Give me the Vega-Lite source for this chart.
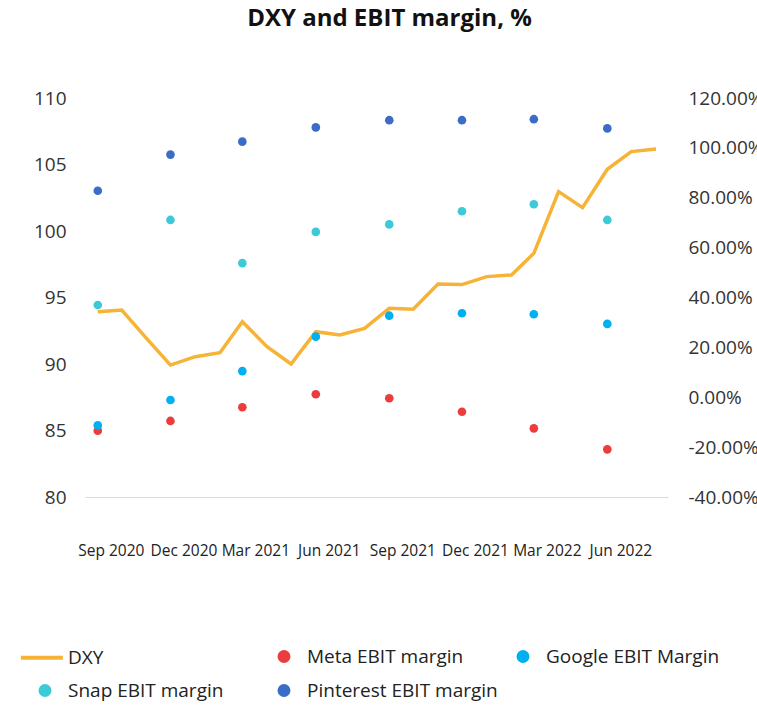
{
  "$schema": "https://vega.github.io/schema/vega-lite/v6.json",
  "width": 583,
  "height": 399,
  "autosize": {"type": "none"},
  "padding": {"left": 85, "top": 98, "right": 89, "bottom": 220},
  "background": "white",
  "config": {"view": {"stroke": null}, "font": "Open Sans"},
  "title": {
    "text": "DXY and EBIT margin, %",
    "fontSize": 24,
    "fontWeight": "bold",
    "color": "#111111",
    "anchor": "middle",
    "frame": "group",
    "dx": 13,
    "offset": 58
  },
  "data": {
    "values": [
      {"date": "2020-09-01", "series": "DXY", "value": 93.93},
      {"date": "2020-10-01", "series": "DXY", "value": 94.06},
      {"date": "2020-11-01", "series": "DXY", "value": 91.93},
      {"date": "2020-12-01", "series": "DXY", "value": 89.92},
      {"date": "2021-01-01", "series": "DXY", "value": 90.55},
      {"date": "2021-02-01", "series": "DXY", "value": 90.85},
      {"date": "2021-03-01", "series": "DXY", "value": 93.18},
      {"date": "2021-04-01", "series": "DXY", "value": 91.3},
      {"date": "2021-05-01", "series": "DXY", "value": 90.0},
      {"date": "2021-06-01", "series": "DXY", "value": 92.43},
      {"date": "2021-07-01", "series": "DXY", "value": 92.18},
      {"date": "2021-08-01", "series": "DXY", "value": 92.68},
      {"date": "2021-09-01", "series": "DXY", "value": 94.19},
      {"date": "2021-10-01", "series": "DXY", "value": 94.11},
      {"date": "2021-11-01", "series": "DXY", "value": 96.02},
      {"date": "2021-12-01", "series": "DXY", "value": 95.97},
      {"date": "2022-01-01", "series": "DXY", "value": 96.57},
      {"date": "2022-02-01", "series": "DXY", "value": 96.69},
      {"date": "2022-03-01", "series": "DXY", "value": 98.32},
      {"date": "2022-04-01", "series": "DXY", "value": 102.96},
      {"date": "2022-05-01", "series": "DXY", "value": 101.76},
      {"date": "2022-06-01", "series": "DXY", "value": 104.64},
      {"date": "2022-07-01", "series": "DXY", "value": 105.97},
      {"date": "2022-08-01", "series": "DXY", "value": 106.17},

      {"date": "2020-09-01", "series": "Meta EBIT margin", "value": -13.4},
      {"date": "2020-12-01", "series": "Meta EBIT margin", "value": -9.5},
      {"date": "2021-03-01", "series": "Meta EBIT margin", "value": -4.0},
      {"date": "2021-06-01", "series": "Meta EBIT margin", "value": 1.2},
      {"date": "2021-09-01", "series": "Meta EBIT margin", "value": -0.4},
      {"date": "2021-12-01", "series": "Meta EBIT margin", "value": -5.8},
      {"date": "2022-03-01", "series": "Meta EBIT margin", "value": -12.5},
      {"date": "2022-06-01", "series": "Meta EBIT margin", "value": -20.9},

      {"date": "2020-09-01", "series": "Google EBIT Margin", "value": -11.3},
      {"date": "2020-12-01", "series": "Google EBIT Margin", "value": -1.1},
      {"date": "2021-03-01", "series": "Google EBIT Margin", "value": 10.5},
      {"date": "2021-06-01", "series": "Google EBIT Margin", "value": 24.3},
      {"date": "2021-09-01", "series": "Google EBIT Margin", "value": 32.7},
      {"date": "2021-12-01", "series": "Google EBIT Margin", "value": 33.7},
      {"date": "2022-03-01", "series": "Google EBIT Margin", "value": 33.3},
      {"date": "2022-06-01", "series": "Google EBIT Margin", "value": 29.4},

      {"date": "2020-09-01", "series": "Snap EBIT margin", "value": 37.0},
      {"date": "2020-12-01", "series": "Snap EBIT margin", "value": 71.1},
      {"date": "2021-03-01", "series": "Snap EBIT margin", "value": 53.8},
      {"date": "2021-06-01", "series": "Snap EBIT margin", "value": 66.3},
      {"date": "2021-09-01", "series": "Snap EBIT margin", "value": 69.3},
      {"date": "2021-12-01", "series": "Snap EBIT margin", "value": 74.6},
      {"date": "2022-03-01", "series": "Snap EBIT margin", "value": 77.4},
      {"date": "2022-06-01", "series": "Snap EBIT margin", "value": 71.1},

      {"date": "2020-09-01", "series": "Pinterest EBIT margin", "value": 82.8},
      {"date": "2020-12-01", "series": "Pinterest EBIT margin", "value": 97.3},
      {"date": "2021-03-01", "series": "Pinterest EBIT margin", "value": 102.5},
      {"date": "2021-06-01", "series": "Pinterest EBIT margin", "value": 108.2},
      {"date": "2021-09-01", "series": "Pinterest EBIT margin", "value": 111.1},
      {"date": "2021-12-01", "series": "Pinterest EBIT margin", "value": 111.1},
      {"date": "2022-03-01", "series": "Pinterest EBIT margin", "value": 111.5},
      {"date": "2022-06-01", "series": "Pinterest EBIT margin", "value": 107.8}
    ]
  },
  "encoding": {
    "x": {
      "field": "date",
      "type": "temporal",
      "scale": {
        "type": "utc",
        "domain": [
          {"year": 2020, "month": 8, "date": 16, "utc": true},
          {"year": 2022, "month": 8, "date": 16, "utc": true}
        ]
      },
      "axis": {
        "title": null,
        "values": [
          {"year": 2020, "month": 9, "date": 1, "utc": true},
          {"year": 2020, "month": 12, "date": 1, "utc": true},
          {"year": 2021, "month": 3, "date": 1, "utc": true},
          {"year": 2021, "month": 6, "date": 1, "utc": true},
          {"year": 2021, "month": 9, "date": 1, "utc": true},
          {"year": 2021, "month": 12, "date": 1, "utc": true},
          {"year": 2022, "month": 3, "date": 1, "utc": true},
          {"year": 2022, "month": 6, "date": 1, "utc": true}
        ],
        "format": "%b %Y",
        "grid": false,
        "ticks": false,
        "tickSize": 0,
        "domainColor": "#D9D9D9",
        "domainWidth": 1,
        "labelFontSize": 15.5,
        "labelColor": "#222222",
        "labelPadding": 46,
        "labelOffset": 13,
        "labelFlush": false,
        "labelOverlap": false
      }
    },
    "color": {
      "field": "series",
      "type": "nominal",
      "scale": {
        "domain": ["DXY", "Meta EBIT margin", "Google EBIT Margin", "Snap EBIT margin", "Pinterest EBIT margin"],
        "range": ["#F6B335", "#EB3D3D", "#00B0F0", "#3CCAD8", "#3B6CC6"]
      },
      "legend": {
        "title": null,
        "orient": "none",
        "legendX": -49.5,
        "legendY": 549,
        "direction": "horizontal",
        "columns": 3,
        "gridAlign": "all",
        "columnPadding": 12,
        "rowPadding": 9,
        "symbolSize": 80,
        "symbolType": "circle",
        "labelFontSize": 19,
        "labelColor": "#222222",
        "labelOffset": 13.5,
        "labelLimit": 300,
        "encode": {
          "symbols": {
            "update": {
              "shape": {"signal": "datum.value === 'DXY' ? 'M-5.4,0L4,0' : 'circle'"},
              "stroke": {"signal": "datum.value === 'DXY' ? '#F6B335' : 'transparent'"},
              "fill": {"signal": "datum.value === 'DXY' ? 'transparent' : scale('color', datum.value)"},
              "strokeWidth": {"value": 4},
              "opacity": {"value": 1}
            }
          }
        }
      }
    }
  },
  "layer": [
    {
      "transform": [{"filter": "datum.series === 'DXY'"}],
      "mark": {"type": "line", "strokeWidth": 3.5, "strokeJoin": "miter"},
      "encoding": {
        "y": {
          "field": "value",
          "type": "quantitative",
          "scale": {"domain": [80, 110], "nice": false, "zero": false},
          "axis": {
            "title": null,
            "values": [80, 85, 90, 95, 100, 105, 110],
            "grid": false,
            "ticks": false,
            "tickSize": 0,
            "domain": false,
            "labelFontSize": 19,
            "labelColor": "#333333",
            "labelPadding": 19
          }
        }
      }
    },
    {
      "transform": [{"filter": "datum.series !== 'DXY'"}],
      "mark": {"type": "point", "filled": true, "size": 75, "opacity": 1},
      "encoding": {
        "y": {
          "field": "value",
          "type": "quantitative",
          "scale": {"domain": [-40, 120], "nice": false, "zero": false},
          "axis": {
            "title": null,
            "orient": "right",
            "values": [-40, -20, 0, 20, 40, 60, 80, 100, 120],
            "labelExpr": "(datum.value < 0 ? '-' : '') + format(abs(datum.value), '.2f') + '%'",
            "grid": false,
            "ticks": false,
            "tickSize": 0,
            "domain": false,
            "labelFontSize": 19,
            "labelColor": "#333333",
            "labelPadding": 20
          }
        }
      }
    }
  ],
  "resolve": {"scale": {"y": "independent"}}
}
